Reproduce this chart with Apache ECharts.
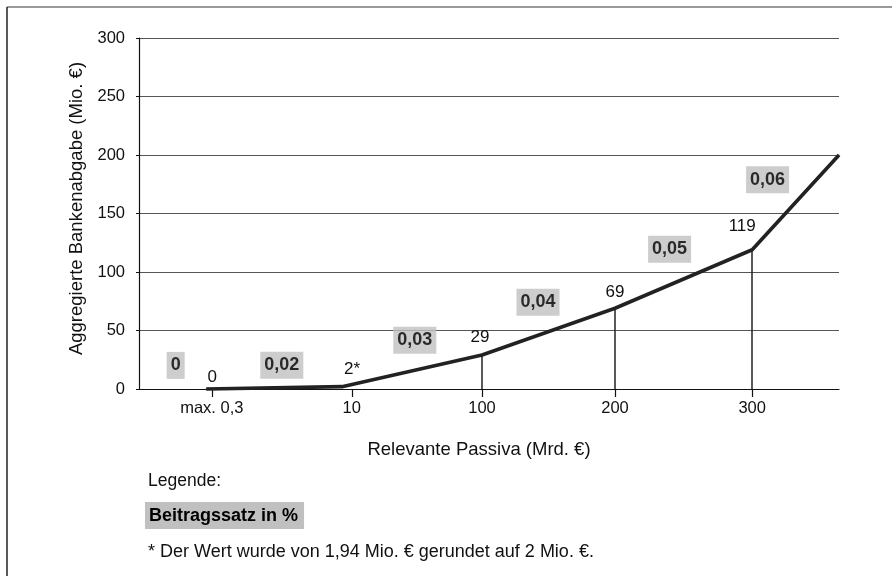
<!DOCTYPE html>
<html>
<head>
<meta charset="utf-8">
<script src="https://cdn.jsdelivr.net/npm/echarts@6/dist/echarts.min.js"></script>
<style>
  html, body { margin: 0; padding: 0; background: #fff; }
  #chart { width: 892px; height: 576px; }
</style>
</head>
<body>
<div id="chart"></div>
<script>
// ---- data ----
const tickLabels = ['max. 0,3', '10', '100', '200', '300'];
const tickPositions = [0.52, 1.52, 2.45, 3.40, 4.38];          // x positions of category ticks
const pointX = [0.48, 1.45, 2.45, 3.40, 4.38, 5.0];             // x positions of curve points
const pointY = [0, 2, 29, 69, 119, 200];                        // Aggregierte Bankenabgabe (Mio. €)
const pointLabels = ['0', '2*', '29', '69', '119', ''];
const dropIndices = [2, 3, 4];                                  // vertical lines down to axis
const rateLabels = ['0', '0,02', '0,03', '0,04', '0,05', '0,06'];
const rateX = [0.262, 1.02, 1.97, 2.85, 3.79, 4.49];
const rateY = [20.2, 20.3, 41.7, 74.2, 119.5, 178.9];
const yTicks = [0, 50, 100, 150, 200, 250, 300];

// ---- styling config ----
const FONT = 'Liberation Sans, Arial, sans-serif';
const labelOffsets = [[6, 2], [10, -3], [-2, -4], [0, -2], [-10, -9], [0, 0]];

const chart = echarts.init(document.getElementById('chart'));

const lineData = pointX.map((x, i) => ({
  value: [x, pointY[i]],
  label: { offset: labelOffsets[i] }
}));

const dropLines = dropIndices.map(i => [
  { coord: [pointX[i], 0] },
  { coord: [pointX[i], pointY[i]] }
]);

const rateData = rateX.map((x, i) => ({
  value: [x, rateY[i]],
  name: rateLabels[i]
}));

chart.setOption({
  animation: false,
  backgroundColor: '#fff',
  textStyle: { fontFamily: FONT },
  grid: { left: 139, right: 53, top: 38, bottom: 187 },
  xAxis: {
    type: 'value',
    min: 0,
    max: 5,
    name: 'Relevante Passiva (Mrd. €)',
    nameLocation: 'middle',
    nameGap: 51,
    nameTextStyle: { fontSize: 18.5, color: '#111', fontFamily: FONT, padding: [0, 20, 0, 0] },
    splitLine: { show: false },
    axisLine: { show: true, onZero: false, lineStyle: { color: '#111', width: 1.2 } },
    axisTick: { show: true, customValues: tickPositions, length: 8, lineStyle: { color: '#111', width: 1.2 } },
    axisLabel: {
      customValues: tickPositions,
      margin: 11,
      fontSize: 16.5,
      color: '#111',
      fontFamily: FONT,
      formatter: v => {
        const idx = tickPositions.findIndex(p => Math.abs(p - v) < 1e-6);
        return idx >= 0 ? tickLabels[idx] : '';
      }
    }
  },
  yAxis: {
    type: 'value',
    min: 0,
    max: 300,
    interval: 50,
    name: 'Aggregierte Bankenabgabe (Mio. €)',
    nameLocation: 'middle',
    nameGap: 53,
    nameTextStyle: { fontSize: 18.5, color: '#111', fontFamily: FONT, padding: [0, 0, 0, 10] },
    axisLine: { show: true, lineStyle: { color: '#111', width: 1.2 } },
    axisTick: { show: true, length: 3, lineStyle: { color: '#111' } },
    axisLabel: { margin: 14, fontSize: 16.5, color: '#111', fontFamily: FONT,
      formatter: v => yTicks.includes(v) ? String(v) : '' },
    splitLine: { show: true, lineStyle: { color: '#555', width: 1 } }
  },
  series: [
    {
      type: 'line',
      data: lineData,
      symbol: 'circle',
      symbolSize: 1,
      showSymbol: true,
      itemStyle: { color: '#222' },
      clip: false,
      lineStyle: { color: '#222', width: 3.6 },
      label: {
        show: true,
        position: 'top',
        distance: 5,
        fontSize: 17,
        color: '#111',
        fontFamily: FONT,
        formatter: p => pointLabels[p.dataIndex]
      },
      markLine: {
        silent: true,
        symbol: ['none', 'none'],
        label: { show: false },
        lineStyle: { color: '#222', width: 1.5, type: 'solid' },
        data: dropLines
      },
      z: 3
    },
    {
      type: 'scatter',
      data: rateData,
      symbolSize: 0,
      label: {
        show: true,
        position: 'inside',
        formatter: p => p.name,
        fontSize: 18,
        fontWeight: 'bold',
        color: '#000',
        fontFamily: FONT,
        backgroundColor: '#c0c0c0',
        padding: [5, 4, 4, 4]
      },
      z: 4
    }
  ],
  graphic: [
    { type: 'line', shape: { x1: 7, y1: 7, x2: 892, y2: 7 }, style: { stroke: '#999', lineWidth: 2 } },
    { type: 'line', shape: { x1: 7, y1: 7, x2: 7, y2: 576 }, style: { stroke: '#222', lineWidth: 1.5 } },
    { type: 'text', left: 148, top: 472, style: { text: 'Legende:', font: '17.5px ' + FONT, fill: '#111' } },
    { type: 'text', left: 145, top: 502, style: {
        text: 'Beitragssatz in %', font: 'bold 18px ' + FONT, fill: '#000',
        backgroundColor: '#c0c0c0', padding: [5, 6, 4, 4] } },
    { type: 'text', left: 148, top: 543, style: {
        text: '* Der Wert wurde von 1,94 Mio. € gerundet auf 2 Mio. €.', font: '18px ' + FONT, fill: '#111' } }
  ]
});
</script>
</body>
</html>
